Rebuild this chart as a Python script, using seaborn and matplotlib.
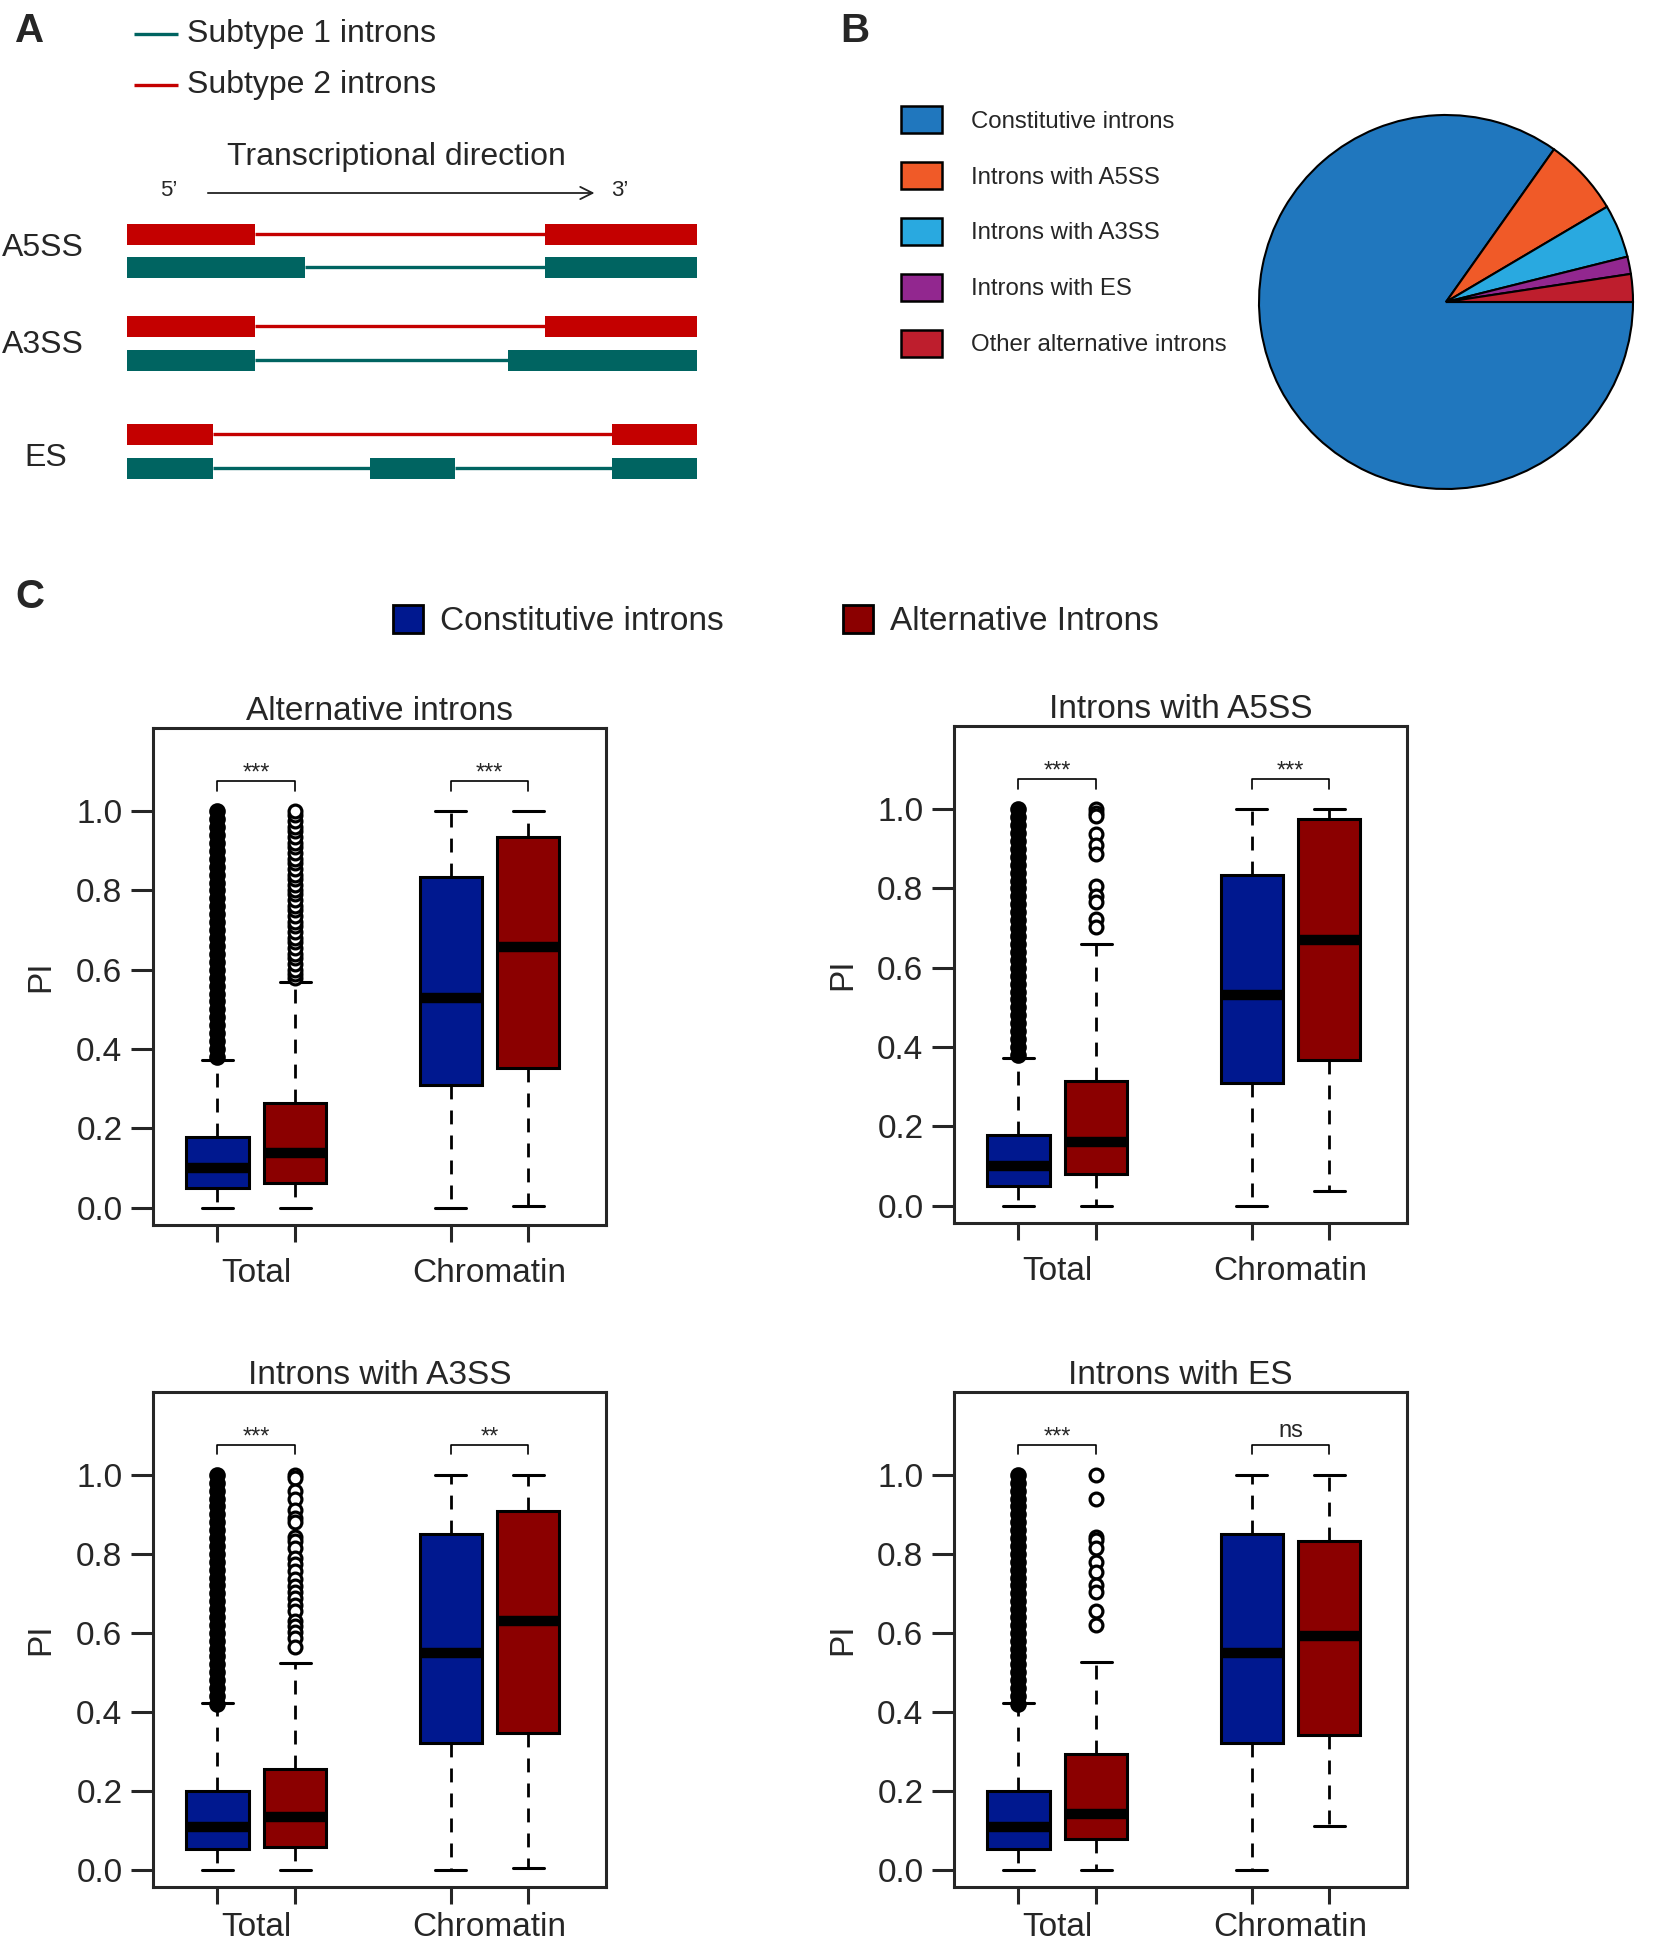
import numpy as np
import pandas as pd
import matplotlib
import matplotlib.pyplot as plt
from matplotlib.patches import Patch
import seaborn as sns

matplotlib.use("Agg")

# --- Panel A: schematic exon intervals (0 = 5' end, 100 = 3' end) ---
event_names = ["A5SS", "A3SS", "ES"]
subtype2_exons = [[(0, 22.5), (73.3, 100)],
                  [(0, 22.5), (73.3, 100)],
                  [(0, 15.1), (85.1, 100)]]
subtype1_exons = [[(0, 31.2), (73.3, 100)],
                  [(0, 22.5), (66.8, 100)],
                  [(0, 15.1), (42.6, 57.5), (85.1, 100)]]

# --- Panel B: intron composition ---
pie_labels = ["Constitutive introns", "Introns with A5SS", "Introns with A3SS",
              "Introns with ES", "Other alternative introns"]
pie_values = [84.8, 6.7, 4.6, 1.5, 2.4]
pie_colors = ["#2077BE", "#F05A28", "#29A9E0", "#92278F", "#BE1E2D"]

# --- Panel C: PI boxplots ---
panel_titles = ["Alternative introns", "Introns with A5SS",
                "Introns with A3SS", "Introns with ES"]
box_groups = ["Total", "Total", "Chromatin", "Chromatin"]
box_types = ["Constitutive introns", "Alternative Introns",
             "Constitutive introns", "Alternative Introns"]
type_colors = {"Constitutive introns": "#00188F", "Alternative Introns": "#8B0000"}

# lower whisker, Q1, median, Q3, upper whisker  (Total const, Total alt, Chrom const, Chrom alt)
alt_stats = [[0.0, 0.049, 0.100, 0.179, 0.373],
             [0.0, 0.062, 0.137, 0.265, 0.570],
             [0.0, 0.310, 0.530, 0.834, 1.0],
             [0.004, 0.353, 0.657, 0.936, 1.0]]
a5ss_stats = [[0.0, 0.050, 0.100, 0.179, 0.373],
              [0.0, 0.080, 0.161, 0.314, 0.660],
              [0.0, 0.309, 0.532, 0.834, 1.0],
              [0.037, 0.367, 0.670, 0.976, 1.0]]
a3ss_stats = [[0.0, 0.052, 0.107, 0.200, 0.421],
              [0.0, 0.058, 0.133, 0.254, 0.524],
              [0.0, 0.321, 0.548, 0.850, 1.0],
              [0.003, 0.345, 0.630, 0.908, 1.0]]
es_stats = [[0.0, 0.052, 0.107, 0.200, 0.421],
            [0.0, 0.078, 0.140, 0.292, 0.526],
            [0.0, 0.321, 0.548, 0.850, 1.0],
            [0.111, 0.341, 0.592, 0.833, 1.0]]

# outliers of the "Total" boxes (constitutive ones are so dense they print solid)
const_outliers_a = [0.38, 0.40, 0.42, 0.44, 0.46, 0.48, 0.50, 0.52, 0.54, 0.56, 0.58,
                    0.60, 0.62, 0.64, 0.66, 0.68, 0.70, 0.72, 0.74, 0.76, 0.78, 0.80,
                    0.82, 0.84, 0.86, 0.88, 0.90, 0.92, 0.94, 0.96, 0.98, 1.00]
const_outliers_b = [0.42, 0.44, 0.46, 0.48, 0.50, 0.52, 0.54, 0.56, 0.58, 0.60, 0.62,
                    0.64, 0.66, 0.68, 0.70, 0.72, 0.74, 0.76, 0.78, 0.80, 0.82, 0.84,
                    0.86, 0.88, 0.90, 0.92, 0.94, 0.96, 0.98, 1.00]
alt_outliers = [0.58, 0.59, 0.60, 0.615, 0.63, 0.64, 0.655, 0.67, 0.68, 0.695, 0.71,
                0.72, 0.735, 0.75, 0.76, 0.775, 0.79, 0.80, 0.815, 0.83, 0.84, 0.855,
                0.87, 0.88, 0.895, 0.91, 0.92, 0.935, 0.95, 0.96, 0.975, 0.99, 1.0]
a5ss_outliers = [1.0, 0.991, 0.983, 0.938, 0.911, 0.886, 0.807, 0.782, 0.767, 0.722, 0.702]
a3ss_outliers = [1.0, 0.992, 0.958, 0.938, 0.91, 0.89, 0.881, 0.842, 0.833, 0.814, 0.79,
                 0.775, 0.756, 0.737, 0.718, 0.703, 0.689, 0.67, 0.655, 0.631, 0.617,
                 0.601, 0.587, 0.563]
es_outliers = [1.0, 0.939, 0.843, 0.834, 0.814, 0.78, 0.753, 0.722, 0.703, 0.654, 0.62]

sig_labels = [("***", "***"), ("***", "***"), ("***", "**"), ("***", "ns")]

panel_stats = [alt_stats, a5ss_stats, a3ss_stats, es_stats]
panel_const_out = [const_outliers_a, const_outliers_a, const_outliers_b, const_outliers_b]
panel_alt_out = [alt_outliers, a5ss_outliers, a3ss_outliers, es_outliers]

# --- Style ---
sns.set_style("ticks")
plt.rcParams["font.family"] = ["Liberation Sans", "DejaVu Sans"]

W, H = 1672, 1950
fig = plt.figure(figsize=(W / 100, H / 100), dpi=100)


def frac_box(x0, y0, x1, y1):
    """Pixel box (top-left origin) -> figure fraction rect."""
    return [x0 / W, 1 - y1 / H, (x1 - x0) / W, (y1 - y0) / H]


# Panel letters
for letter, (px, py) in zip("ABC", [(15, 31), (840, 31), (15, 597)]):
    fig.text(px / W, 1 - py / H, letter, fontsize=29, fontweight="bold", va="center", ha="left")

# --- Panel A ---
teal, red = "#006461", "#C40000"
axA = fig.add_axes(frac_box(0, 0, 720, 520))
scale = 5.7
axA.set_xlim(-127 / scale, (720 - 127) / scale)
axA.set_ylim(520, 0)
axA.axis("off")

for color, ypos, label in [(teal, 34, "Subtype 1 introns"), (red, 85, "Subtype 2 introns")]:
    axA.plot([1.2, 8.9], [ypos, ypos], color=color, lw=2.4, solid_capstyle="butt")
    axA.text(10.6, ypos, label, fontsize=23, va="center", ha="left")

axA.text(47.2, 157, "Transcriptional direction", fontsize=23, ha="center", va="center")
axA.annotate("", xy=(82.5, 193), xytext=(13.7, 193),
             arrowprops=dict(arrowstyle="->", lw=1.3, color="#222222", mutation_scale=22))
axA.text(7.4, 190, "5\u2019", fontsize=16, ha="center", va="center")
axA.text(86.5, 190, "3\u2019", fontsize=16, ha="center", va="center")

row_y2 = [234.5, 326.5, 434]
row_y1 = [267.5, 360.5, 468.5]
label_y = [248, 345, 458]
bar_h = 21
for name, ex2, ex1, y2, y1, ly in zip(event_names, subtype2_exons, subtype1_exons,
                                      row_y2, row_y1, label_y):
    for exons, yy, color in [(ex2, y2, red), (ex1, y1, teal)]:
        starts = [s for s, e in exons]
        widths = [e - s for s, e in exons]
        axA.barh([yy] * len(exons), widths, left=starts, height=bar_h, color=color, linewidth=0)
        for (s0, e0), (s1, e1) in zip(exons[:-1], exons[1:]):
            axA.plot([e0, s1], [yy, yy], color=color, lw=2.4, solid_capstyle="butt")
    if name == "ES":
        axA.text(-14.2, ly, name, fontsize=23, ha="center", va="center")
    else:
        axA.text(-21.9, ly, name, fontsize=23, ha="left", va="center")

# --- Panel B ---
r = 187
lim = 1.02
axB = fig.add_axes(frac_box(1446 - r * lim, 302 - r * lim, 1446 + r * lim, 302 + r * lim))
axB.pie(pie_values, colors=pie_colors, startangle=0, counterclock=False, radius=1,
        wedgeprops=dict(edgecolor="black", linewidth=1.5))
axB.set_xlim(-lim, lim)
axB.set_ylim(-lim, lim)
axB.set_aspect("equal")

fs_b = 17.3
fig.legend(handles=[Patch(facecolor=c, edgecolor="black", linewidth=1.8) for c in pie_colors],
           labels=pie_labels, loc="upper left", bbox_to_anchor=(901 / W, 1 - 106 / H),
           frameon=False, fontsize=fs_b, handlelength=1.7, handleheight=1.36,
           labelspacing=1.2, handletextpad=1.2, borderpad=0, borderaxespad=0)

# --- Panel C legend ---
fig.legend(handles=[Patch(facecolor=type_colors[t], edgecolor="black", linewidth=2)
                    for t in ["Constitutive introns", "Alternative Introns"]],
           labels=["Constitutive introns", "Alternative Introns"], ncol=2,
           loc="center left", bbox_to_anchor=(393 / W, 1 - 621 / H), frameon=False,
           fontsize=24, handlelength=0.9, handleheight=0.95, handletextpad=0.5,
           columnspacing=3.6, borderpad=0, borderaxespad=0)

# --- Panel C boxplots ---
positions = [1, 2, 4, 5]
axes_boxes = [(153, 728, 606, 1225), (954, 726, 1407, 1223),
              (153, 1392, 606, 1887), (954, 1392, 1407, 1887)]
label_pads = [24, 24, 18, 18]

for k in range(4):
    ax = fig.add_axes(frac_box(*axes_boxes[k]))
    rows = []
    for pos, btype, stats in zip(positions, box_types, panel_stats[k]):
        for v in stats:
            rows.append({"pos": pos, "value": v, "type": btype})
    df = pd.DataFrame(rows)

    sns.boxplot(data=df, x="pos", y="value", hue="type",
                hue_order=["Constitutive introns", "Alternative Introns"],
                palette=type_colors, saturation=1, native_scale=True, dodge=False,
                width=0.8, whis=(0, 100), showfliers=False, linecolor="black",
                linewidth=2.2, medianprops=dict(linewidth=7.5),
                whiskerprops=dict(linestyle=(0, (5, 4)), linewidth=2.0),
                legend=False, ax=ax)

    const_out = panel_const_out[k]
    alt_out = panel_alt_out[k]
    sns.scatterplot(x=[positions[0]] * len(const_out), y=const_out, marker="o", s=110,
                    color="black", edgecolor="black", linewidth=1.5, ax=ax, zorder=4)
    sns.scatterplot(x=[positions[1]] * len(alt_out), y=alt_out, marker="o", s=85,
                    color="white", edgecolor="black", linewidth=2.3, ax=ax, zorder=4)

    # significance brackets
    for (xa, xb), lab in zip([(1, 2), (4, 5)], sig_labels[k]):
        ax.plot([xa, xa, xb, xb], [1.052, 1.077, 1.077, 1.052], color="black", lw=1.2)
        if lab == "ns":
            ax.text((xa + xb) / 2, 1.083, lab, ha="center", va="bottom", fontsize=17)
        else:
            ax.text((xa + xb) / 2, 1.068, lab, ha="center", va="bottom", fontsize=17)

    ax.set_xlim(0.17, 6.0)
    ax.set_ylim(-0.044, 1.21)
    yt = [0.0, 0.2, 0.4, 0.6, 0.8, 1.0]
    ax.set_yticks(yt)
    ax.set_yticklabels([f"{v:.1f}" for v in yt])
    ax.set_xticks(positions)
    ax.set_xticklabels([""] * 4)
    ax.set_xticks([1.5, 4.5], minor=True)
    ax.set_xticklabels(["Total", "Chromatin"], minor=True)
    ax.tick_params(axis="y", length=16, width=2.2, labelsize=24, pad=6)
    ax.tick_params(axis="x", which="major", length=12, width=2.2, labelbottom=False)
    ax.tick_params(axis="x", which="minor", length=0, labelsize=24, pad=label_pads[k])
    for sp in ax.spines.values():
        sp.set_visible(True)
        sp.set_linewidth(2.2)
    ax.set_xlabel("")
    ax.set_ylabel("PI", fontsize=24, labelpad=14)
    ax.set_title(panel_titles[k], fontsize=24, pad=6)

fig.savefig("out.png", dpi=100)
